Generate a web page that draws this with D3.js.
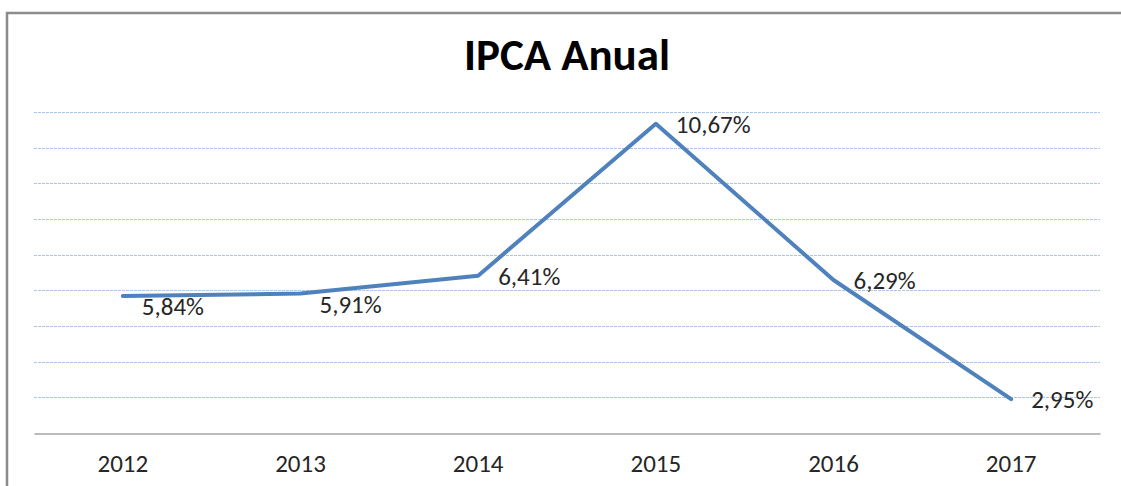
<!DOCTYPE html>
<html>
<head>
<meta charset="utf-8">
<script src="https://cdn.jsdelivr.net/npm/d3@7"></script>
<style>
  body { margin: 0; background: #fff; }
  svg { display: block; font-family: Carlito, "Open Sans", "Noto Sans", sans-serif; }
</style>
</head>
<body>
<div id="chart"></div>
<script>
var width = 1121, height = 486;

// data
var years = ["2012", "2013", "2014", "2015", "2016", "2017"];
var ipca = [5.84, 5.91, 6.41, 10.67, 6.29, 2.95];
var labelSide = ["below", "below", "right", "right", "right", "right"];
var yTicks = [3, 4, 5, 6, 7, 8, 9, 10, 11];

var margin = {top: 112, right: 21, bottom: 53, left: 34};

var svg = d3.select("#chart")
  .append("svg")
  .attr("width", width)
  .attr("height", height);

// chart frame (runs off the right and bottom edges)
svg.append("rect")
  .attr("x", 7).attr("y", 13)
  .attr("width", width + 20).attr("height", height + 20)
  .attr("fill", "#fff")
  .attr("stroke", "#8c8c8c")
  .attr("stroke-width", 2.5);

svg.append("text")
  .attr("x", 567).attr("y", 70)
  .attr("text-anchor", "middle")
  .attr("font-weight", "bold")
  .attr("font-size", 45)
  .attr("fill", "#000")
  .text("IPCA Anual");

var x = d3.scaleBand()
  .domain(years)
  .range([margin.left, width - margin.right]);

var y = d3.scaleLinear()
  .domain([2, 11])
  .range([height - margin.bottom, margin.top]);

// gridlines
svg.append("g")
  .selectAll("line")
  .data(yTicks)
  .enter()
  .append("line")
  .attr("x1", margin.left)
  .attr("x2", width - margin.right)
  .attr("y1", d => Math.round(y(d)) + 0.5)
  .attr("y2", d => Math.round(y(d)) + 0.5)
  .attr("stroke", "#a9c6ea")
  .attr("stroke-width", 1)
  .attr("stroke-dasharray", "3,1");

// x axis
var xAxis = svg.append("g")
  .attr("transform", "translate(0," + (Math.round(y(2)) + 0.5) + ")")
  .call(d3.axisBottom(x).tickSize(0).tickPadding(21));
xAxis.select(".domain").attr("stroke", "#a6a6a6").attr("stroke-width", 1.5);
xAxis.selectAll("text")
  .attr("font-size", 25)
  .attr("font-family", "Carlito, 'Open Sans', 'Noto Sans', sans-serif")
  .attr("fill", "#262626");

var pts = years.map((yr, i) => ({year: yr, v: ipca[i], side: labelSide[i]}));

var line = d3.line()
  .x(d => x(d.year) + x.bandwidth() / 2)
  .y(d => y(d.v));

svg.append("path")
  .datum(pts)
  .attr("d", line)
  .attr("fill", "none")
  .attr("stroke", "#4f81bd")
  .attr("stroke-width", 4)
  .attr("stroke-linejoin", "round")
  .attr("stroke-linecap", "round");

function fmt(v) { return d3.format(".2f")(v).replace(".", ",") + "%"; }

svg.append("g")
  .selectAll("text")
  .data(pts)
  .enter()
  .append("text")
  .attr("x", d => x(d.year) + x.bandwidth() / 2 + (d.side === "below" ? 19 : 20))
  .attr("y", d => y(d.v) + (d.side === "below" ? 19 : 9))
  .attr("font-size", 25)
  .attr("fill", "#262626")
  .text(d => fmt(d.v));
</script>
</body>
</html>
